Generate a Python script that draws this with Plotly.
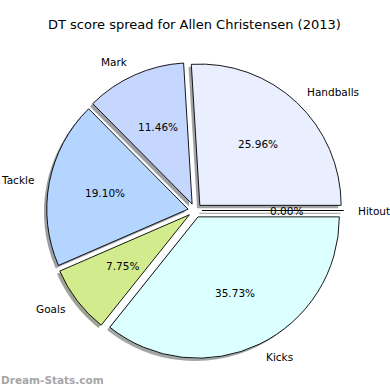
import math
import plotly.graph_objects as go

# ---- data ----
labels = ["Handballs", "Mark", "Tackle", "Goals", "Kicks", "Hitout"]
values = [25.96, 11.46, 19.10, 7.75, 35.73, 0.00]
colors = ["#e9efff", "#c6d7ff", "#b4d5ff", "#d2eb8c", "#dcffff", "#e6e6e6"]
title_text = "DT score spread for Allen Christensen (2013)"
watermark = "Dream-Stats.com"

# ---- layout constants (pixels) ----
W = H = 390
CX, CY = 195.0, 210.5        # pie centre (from top-left)
R = 141.3                    # pie radius
PULL = 0.05                  # explode fraction
SH = 2.8                     # shadow offset


def hex_rgb(h):
    h = h.lstrip("#")
    return tuple(int(h[i:i + 2], 16) for i in (0, 2, 4))


half = R * (1 + PULL)


def domain(dx=0.0, dy=0.0):
    x0 = (CX + dx - half) / W
    x1 = (CX + dx + half) / W
    yb = H - (CY + dy)
    return dict(x=[x0, x1], y=[(yb - half) / H, (yb + half) / H])


total = sum(values)
# plotly's counterclockwise pies end the first slice at `rotation`;
# make the first slice start at 3 o'clock like matplotlib (startangle 0)
rot = 90 - 360.0 * values[0] / total

shadow_cols = []
for c in colors:
    r, g, b = hex_rgb(c)
    shadow_cols.append(f"rgba({int(r*0.3)},{int(g*0.3)},{int(b*0.3)},0.5)")

fig = go.Figure()
fig.add_trace(go.Pie(
    labels=labels, values=values, sort=False, direction="counterclockwise",
    rotation=rot, pull=[PULL] * len(values), textinfo="none", hoverinfo="skip",
    marker=dict(colors=shadow_cols, line=dict(width=0)),
    domain=domain(-SH, SH), showlegend=False,
))
fig.add_trace(go.Pie(
    labels=labels, values=values, sort=False, direction="counterclockwise",
    rotation=rot, pull=[PULL] * len(values), textinfo="none",
    marker=dict(colors=colors, line=dict(width=0.9, color="black")),
    domain=domain(), showlegend=False,
))


def px2paper(x, y):
    return x / W, 1 - y / H


annotations = []
shapes = []
start = 0.0
for lab, v in zip(labels, values):
    span = 360.0 * v / total
    mid = math.radians(start + span / 2)
    start += span
    ca, sa = math.cos(mid), math.sin(mid)
    # label
    lx = CX + (1.1 + PULL) * R * ca
    ly = CY - (1.1 + PULL) * R * sa
    px, py = px2paper(lx, ly)
    annotations.append(dict(x=px, y=py, xref="paper", yref="paper", text=lab,
                            showarrow=False, xanchor="left" if ca > 0 else "right",
                            yanchor="middle", borderpad=0,
                            font=dict(size=10.5, color="black")))
    # percentage
    tx = CX + (0.6 + PULL) * R * ca
    ty = CY - (0.6 + PULL) * R * sa
    px, py = px2paper(tx, ty)
    annotations.append(dict(x=px, y=py, xref="paper", yref="paper",
                            text=f"{v:.2f}%", showarrow=False,
                            xanchor="center", yanchor="middle",
                            font=dict(size=10.5, color="black")))
    if v == 0:
        x0 = CX + PULL * R * ca
        y0 = CY - PULL * R * sa
        x1 = CX + (1 + PULL) * R * ca
        y1 = CY - (1 + PULL) * R * sa
        for dx, dy, col in ((-SH, SH, "rgba(60,60,60,0.5)"), (0, 0, "black")):
            a0 = px2paper(x0 + dx, y0 + dy)
            a1 = px2paper(x1 + dx, y1 + dy)
            shapes.append(dict(type="line", xref="paper", yref="paper",
                               x0=a0[0], y0=a0[1], x1=a1[0], y1=a1[1],
                               line=dict(color=col, width=1)))

annotations.append(dict(x=0.5 - 1 / W, y=1 - 25 / H, xref="paper", yref="paper",
                        text=title_text, showarrow=False, xanchor="center",
                        yanchor="middle", font=dict(size=13, color="black")))
annotations.append(dict(x=0.0, y=1 - 380 / H, xref="paper", yref="paper",
                        text=f"<b>{watermark}</b>", showarrow=False,
                        xanchor="left", yanchor="middle", borderpad=0,
                        font=dict(size=10.5, color="#a6a6a6")))

fig.update_layout(
    width=W, height=H, margin=dict(l=0, r=0, t=0, b=0),
    paper_bgcolor="white", plot_bgcolor="white",
    font=dict(family="DejaVu Sans"),
    annotations=annotations, shapes=shapes,
)
fig.write_html("out.html", config={"displayModeBar": False},
               post_script="document.body.style.margin='0px';")
